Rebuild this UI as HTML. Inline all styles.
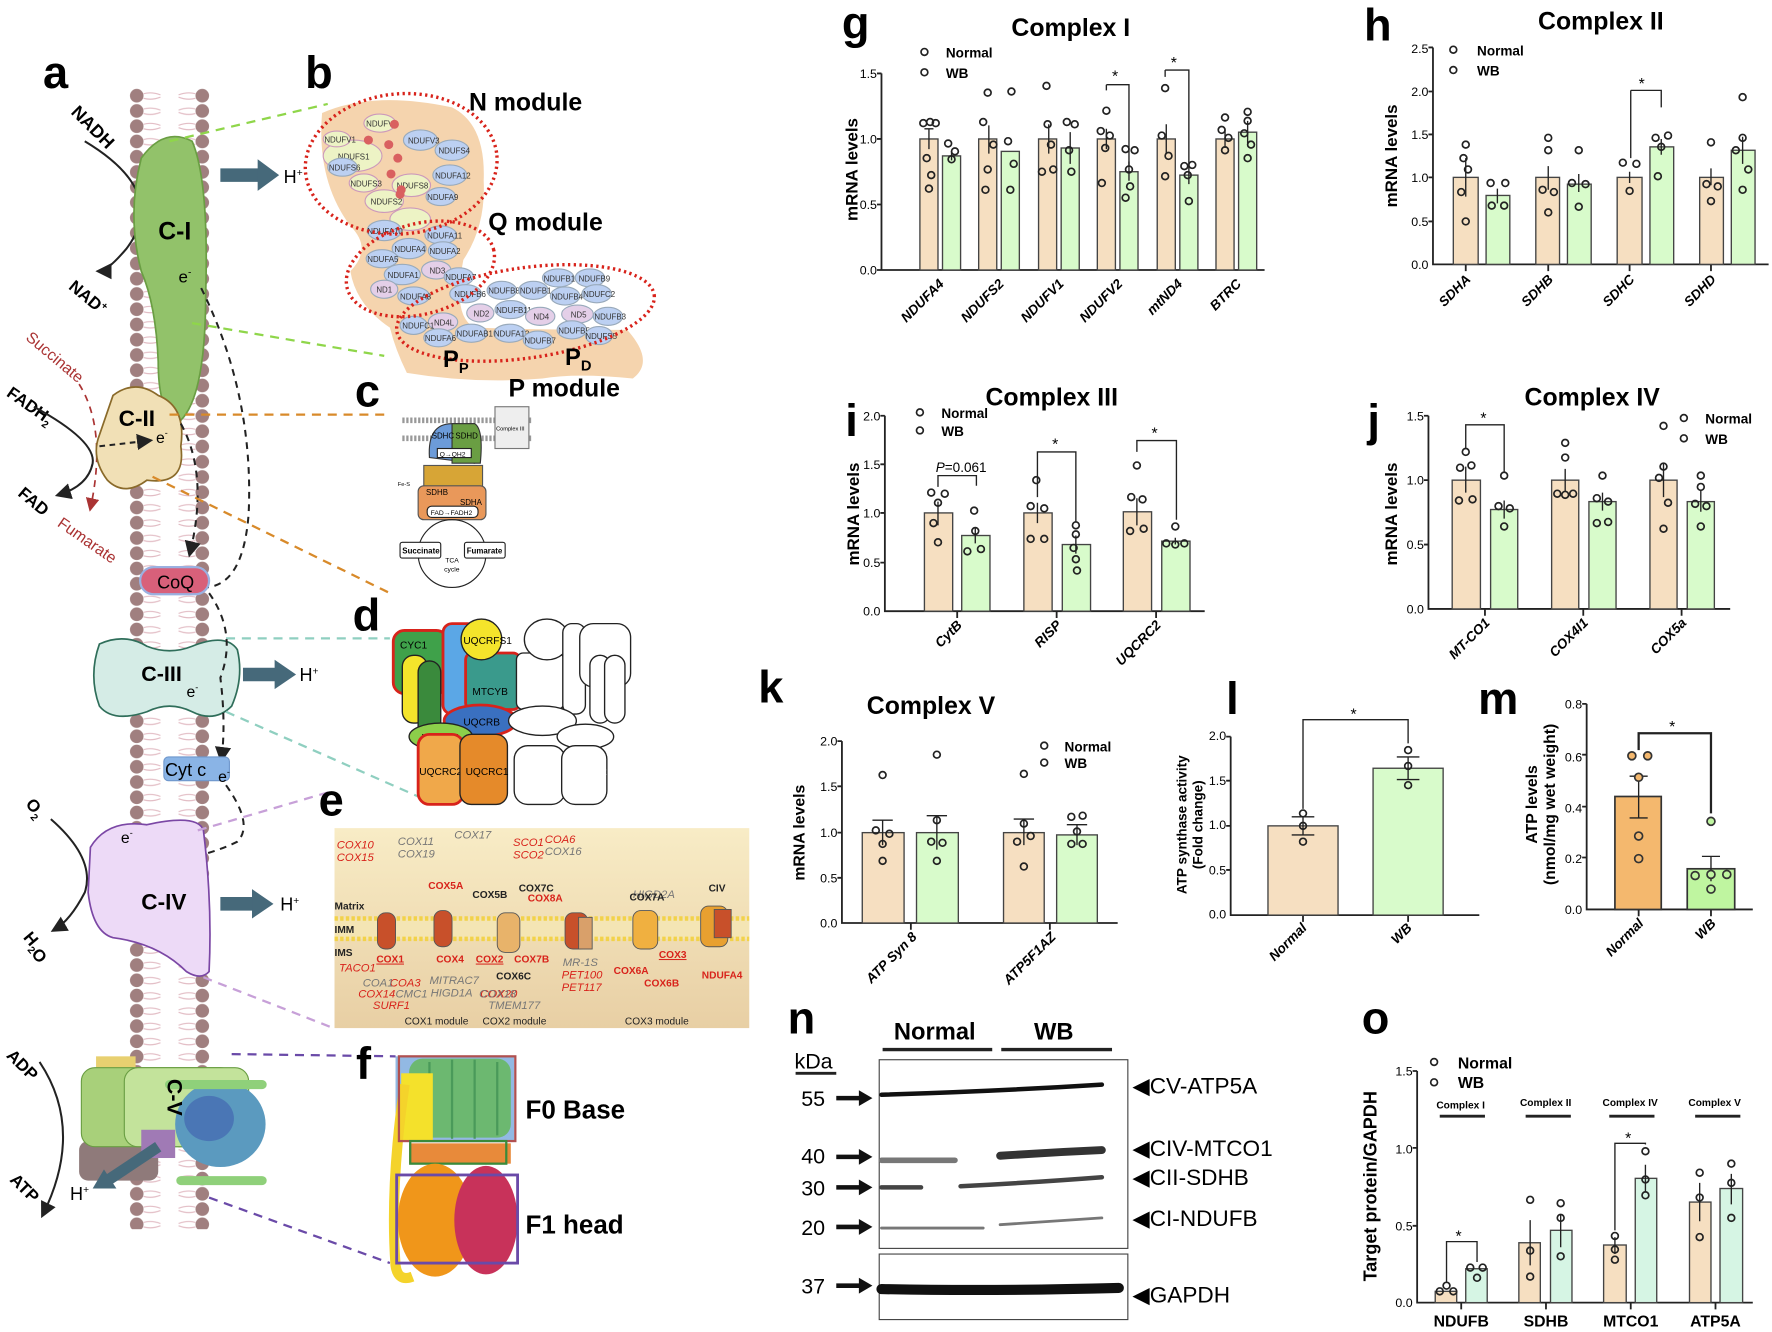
<!DOCTYPE html>
<html><head><meta charset="utf-8"><style>
html,body{margin:0;padding:0;background:#fff}
svg{display:block}
text{font-family:"Liberation Sans",Arial,sans-serif}
.b{font-weight:bold}
.xl{font-size:12px;font-style:italic;font-weight:bold}
.tk{font-size:11px}
.tn{fill:#f6dfc1;stroke:#444;stroke-width:1.2}
.gr{fill:#d8fbcb;stroke:#444;stroke-width:1.2}
.mn{fill:#d6f5e4;stroke:#444;stroke-width:1.2}
.d{fill:none;stroke:#222;stroke-width:1.5}
.ax{stroke:#222;stroke-width:1.6;fill:none}
.eb{stroke:#222;stroke-width:1.2;fill:none}
</style></head><body>
<svg width="1772" height="1332" viewBox="0 0 1568 1179" preserveAspectRatio="none" xmlns="http://www.w3.org/2000/svg">
<defs>
<pattern id="mem" x="112" y="78" width="76" height="13.5" patternUnits="userSpaceOnUse">
<circle cx="9" cy="6.7" r="6" fill="#a07f7f"/><circle cx="67" cy="6.7" r="6" fill="#a07f7f"/>
<path d="M15 5 Q22 3 30 6 M15 9 Q22 11 30 8 M46 6 Q54 3 61 5 M46 8 Q54 11 61 9" stroke="#e2bcc4" stroke-width="1" fill="none"/>
</pattern>
<linearGradient id="eg" x1="0" y1="0" x2="0" y2="1"><stop offset="0" stop-color="#f8ecc6"/><stop offset="1" stop-color="#e8cfa4"/></linearGradient>
<marker id="ah" markerWidth="8" markerHeight="8" refX="6" refY="4" orient="auto"><path d="M0 0 L8 4 L0 8 z" fill="#222"/></marker>
<marker id="ahr" markerWidth="8" markerHeight="8" refX="6" refY="4" orient="auto"><path d="M0 0 L8 4 L0 8 z" fill="#a33"/></marker>
</defs>

<!-- ===== Panel a ===== -->
<text x="38" y="78" class="b" font-size="40">a</text>
<rect x="112" y="78" width="76" height="1010" fill="url(#mem)"/>
<path d="M75 125 Q150 170 112 220 Q95 240 88 240" stroke="#222" stroke-width="1.8" fill="none" marker-end="url(#ah)"/>
<text x="62" y="100" class="b" font-size="16" transform="rotate(45 62 100)">NADH</text>
<text x="60" y="255" class="b" font-size="15" transform="rotate(40 60 255)">NAD<tspan font-size="9" dy="-6">+</tspan></text>
<path d="M125 140 Q145 112 170 125 Q185 160 182 260 Q182 350 160 372 Q140 370 140 320 Q138 270 125 240 Q112 190 125 140 Z" fill="#92c26a" stroke="#6a9e43" stroke-width="1.5"/>
<text x="140" y="212" class="b" font-size="22">C-I</text>
<text x="158" y="250" font-size="15">e<tspan font-size="9" dy="-6">-</tspan></text>
<path d="M178 255 Q225 350 220 455 Q215 520 180 520" stroke="#222" stroke-width="1.8" fill="none" stroke-dasharray="6 5"/>
<path d="M195 155 H230" stroke="#46697a" stroke-width="12"/><path d="M228 141 L247 155 L228 169 Z" fill="#46697a"/>
<text x="251" y="162" font-size="16">H<tspan font-size="9" dy="-6">+</tspan></text>
<path d="M150 125 L290 92" stroke="#8fd64a" stroke-width="2" stroke-dasharray="8 6"/>
<path d="M170 286 L340 315" stroke="#8fd64a" stroke-width="2" stroke-dasharray="8 6"/>
<text x="22" y="300" font-size="14" fill="#a33" transform="rotate(40 22 300)">Succinate</text>
<text x="5" y="350" class="b" font-size="15" transform="rotate(35 5 350)">FADH<tspan font-size="9" dy="4">2</tspan></text>
<path d="M30 360 Q85 390 82 410 Q78 430 52 438" stroke="#222" stroke-width="1.8" fill="none" marker-end="url(#ah)"/>
<text x="15" y="438" class="b" font-size="15" transform="rotate(40 15 438)">FAD</text>
<path d="M70 340 Q95 380 80 450" stroke="#a33" stroke-width="1.5" stroke-dasharray="6 5" fill="none" marker-end="url(#ahr)"/>
<text x="50" y="465" font-size="14" fill="#a33" transform="rotate(35 50 465)">Fumarate</text>
<path d="M100 350 Q120 335 140 350 Q165 360 160 395 Q165 430 130 425 Q110 440 95 425 Q80 405 88 385 Z" fill="#f1e0b6" stroke="#8a6a2a" stroke-width="1.5"/>
<text x="105" y="377" class="b" font-size="20">C-II</text>
<text x="138" y="392" font-size="14">e<tspan font-size="8" dy="-6">-</tspan></text>
<path d="M88 395 L132 390" stroke="#222" stroke-width="1.8" stroke-dasharray="5 4" marker-end="url(#ah)"/>
<path d="M160 375 Q185 420 168 490" stroke="#222" stroke-width="1.8" stroke-dasharray="6 5" fill="none" marker-end="url(#ah)"/>
<path d="M150 367 L345 367" stroke="#d88a2a" stroke-width="2" stroke-dasharray="8 6"/>
<path d="M135 422 L345 525" stroke="#d88a2a" stroke-width="2" stroke-dasharray="8 6"/>
<rect x="124" y="502" width="61" height="24" rx="12" fill="#d8607a" stroke="#9ab0e0" stroke-width="2"/>
<text x="139" y="521" font-size="16">CoQ</text>
<path d="M88 570 Q110 560 130 572 Q150 580 170 572 Q200 560 210 575 Q216 600 205 625 Q190 640 170 630 Q150 620 130 630 Q100 640 88 625 Q78 598 88 570 Z" fill="#d5ece6" stroke="#2f6e5a" stroke-width="1.5"/>
<text x="125" y="603" class="b" font-size="19">C-III</text>
<text x="165" y="617" font-size="14">e<tspan font-size="8" dy="-6">-</tspan></text>
<path d="M215 597 H245" stroke="#46697a" stroke-width="12"/><path d="M243 584 L262 597 L243 610 Z" fill="#46697a"/>
<text x="265" y="603" font-size="16">H<tspan font-size="9" dy="-6">+</tspan></text>
<path d="M200 565 L345 565" stroke="#8fcfc0" stroke-width="2" stroke-dasharray="8 6"/>
<path d="M200 630 L370 705" stroke="#8fcfc0" stroke-width="2" stroke-dasharray="8 6"/>
<path d="M185 525 Q210 560 195 600 Q200 640 196 672" stroke="#222" stroke-width="1.8" stroke-dasharray="6 5" fill="none" marker-end="url(#ah)"/>
<rect x="145" y="670" width="58" height="21" rx="4" fill="#8ab4e6" stroke="#6f97cc"/>
<text x="146" y="687" font-size="16">Cyt c</text>
<text x="193" y="692" font-size="14">e<tspan font-size="8" dy="-6">-</tspan></text>
<path d="M200 695 Q225 730 210 745 Q180 760 130 765" stroke="#222" stroke-width="1.8" stroke-dasharray="6 5" fill="none" marker-end="url(#ah)"/>
<text x="22" y="712" class="b" font-size="15" transform="rotate(50 22 712)">O<tspan font-size="9" dy="4">2</tspan></text>
<path d="M45 725 Q85 760 75 790 Q62 815 48 823" stroke="#222" stroke-width="1.8" fill="none" marker-end="url(#ah)"/>
<text x="20" y="830" class="b" font-size="15" transform="rotate(50 20 830)">H<tspan font-size="9" dy="4">2</tspan>O</text>
<path d="M80 750 Q95 725 130 730 Q175 720 180 735 Q188 800 185 860 Q178 868 165 860 Q140 835 100 830 Q82 825 78 790 Z" fill="#eddaf7" stroke="#7b47a5" stroke-width="1.5"/>
<text x="107" y="746" font-size="14">e<tspan font-size="8" dy="-6">-</tspan></text>
<text x="125" y="805" class="b" font-size="20">C-IV</text>
<path d="M195 800 H225" stroke="#46697a" stroke-width="12"/><path d="M223 787 L242 800 L223 813 Z" fill="#46697a"/>
<text x="248" y="806" font-size="16">H<tspan font-size="9" dy="-6">+</tspan></text>
<path d="M175 735 L295 700" stroke="#c7a0d8" stroke-width="2" stroke-dasharray="8 6"/>
<path d="M180 865 L295 910" stroke="#c7a0d8" stroke-width="2" stroke-dasharray="8 6"/>
<text x="5" y="935" class="b" font-size="15" transform="rotate(45 5 935)">ADP</text>
<path d="M35 940 Q75 1000 38 1075" stroke="#222" stroke-width="1.8" fill="none" marker-end="url(#ah)"/>
<text x="8" y="1045" class="b" font-size="15" transform="rotate(45 8 1045)">ATP</text>
<rect x="85" y="935" width="35" height="14" fill="#e8d070"/>
<rect x="70" y="1010" width="70" height="35" rx="8" fill="#8f7a7a"/>
<rect x="72" y="945" width="135" height="70" rx="12" fill="#a8d07a" stroke="#6a9e43"/>
<rect x="110" y="945" width="110" height="70" rx="12" fill="#c3e39b" stroke="#6a9e43"/>
<rect x="125" y="1000" width="30" height="25" fill="#a07ab5"/>
<ellipse cx="195" cy="995" rx="40" ry="38" fill="#5b9abf"/>
<ellipse cx="185" cy="990" rx="22" ry="20" fill="#4a76b5"/>
<path d="M150 960 H232 M160 1045 H232" stroke="#8fd07a" stroke-width="8" stroke-linecap="round"/>
<text x="148" y="955" class="b" font-size="19" transform="rotate(90 148 955)">C-V</text>
<path d="M140 1015 L95 1045" stroke="#46697a" stroke-width="10"/><path d="M82 1052 L92 1035 L103 1052 Z" fill="#46697a"/>
<text x="62" y="1062" font-size="16">H<tspan font-size="9" dy="-6">+</tspan></text>
<path d="M205 933 L350 935" stroke="#6a4aa8" stroke-width="2" stroke-dasharray="8 6"/>
<path d="M185 1060 L345 1118" stroke="#6a4aa8" stroke-width="2" stroke-dasharray="8 6"/>

<!-- ===== Panel b ===== -->
<text x="270" y="78" class="b" font-size="40">b</text>
<path d="M285 100 Q330 80 400 95 Q430 110 428 160 Q430 200 410 230 Q400 280 420 290 Q480 292 555 292 Q580 320 560 335 Q510 330 480 335 Q420 340 360 330 Q350 310 345 290 Q315 270 310 240 Q330 220 310 200 Q280 160 285 100 Z" fill="#f4cfa5" opacity="0.9"/>
<g font-size="7" fill="#333">
<ellipse cx="312" cy="138" rx="26" ry="14" fill="#edf3c5" stroke="#c9b"/><text x="299" y="141">NDUFS1</text>
<ellipse cx="298" cy="123" rx="12" ry="7" fill="#edf3c5" stroke="#c9b"/><text x="287" y="126">NDUFV1</text>
<ellipse cx="336" cy="109" rx="14" ry="8" fill="#edf3c5" stroke="#c9b"/><text x="324" y="112">NDUFV2</text>
<ellipse cx="372" cy="124" rx="15" ry="9" fill="#bcd0f2" stroke="#9ab"/><text x="361" y="127">NDUFV3</text>
<ellipse cx="400" cy="133" rx="15" ry="9" fill="#bcd0f2" stroke="#9ab"/><text x="388" y="136">NDUFS4</text>
<ellipse cx="303" cy="148" rx="13" ry="8" fill="#bcd0f2" stroke="#9ab"/><text x="291" y="151">NDUFS6</text>
<ellipse cx="398" cy="155" rx="15" ry="9" fill="#bcd0f2" stroke="#9ab"/><text x="385" y="158">NDUFA12</text>
<ellipse cx="322" cy="162" rx="13" ry="8" fill="#edf3c5" stroke="#c9b"/><text x="310" y="165">NDUFS3</text>
<ellipse cx="364" cy="164" rx="17" ry="10" fill="#edf3c5" stroke="#c9b"/><text x="351" y="167">NDUFS8</text>
<ellipse cx="390" cy="174" rx="13" ry="8" fill="#bcd0f2" stroke="#9ab"/><text x="378" y="177">NDUFA9</text>
<ellipse cx="340" cy="178" rx="17" ry="10" fill="#edf3c5" stroke="#c9b"/><text x="328" y="181">NDUFS2</text>
<ellipse cx="363" cy="194" rx="18" ry="10" fill="#edf3c5" stroke="#c9b"/>
<ellipse cx="340" cy="204" rx="15" ry="9" fill="#bcd0f2" stroke="#9ab"/><text x="325" y="207">NDUFA10</text>
<ellipse cx="390" cy="208" rx="14" ry="8" fill="#bcd0f2" stroke="#9ab"/><text x="378" y="211">NDUFA11</text>
<ellipse cx="362" cy="220" rx="15" ry="9" fill="#bcd0f2" stroke="#9ab"/><text x="349" y="223">NDUFA4</text>
<ellipse cx="392" cy="222" rx="13" ry="8" fill="#bcd0f2" stroke="#9ab"/><text x="380" y="225">NDUFA2</text>
<ellipse cx="338" cy="229" rx="14" ry="8" fill="#bcd0f2" stroke="#9ab"/><text x="325" y="232">NDUFA5</text>
<ellipse cx="356" cy="243" rx="16" ry="9" fill="#bcd0f2" stroke="#9ab"/><text x="343" y="246">NDUFA1</text>
<ellipse cx="386" cy="239" rx="13" ry="8" fill="#e4cfe8" stroke="#9ab"/><text x="380" y="242">ND3</text>
<ellipse cx="406" cy="245" rx="13" ry="8" fill="#bcd0f2" stroke="#9ab"/><text x="394" y="248">NDUFA7</text>
<ellipse cx="340" cy="256" rx="12" ry="8" fill="#e4cfe8" stroke="#9ab"/><text x="333" y="259">ND1</text>
<ellipse cx="366" cy="262" rx="14" ry="8" fill="#bcd0f2" stroke="#9ab"/><text x="354" y="265">NDUFA8</text>
<ellipse cx="412" cy="260" rx="14" ry="8" fill="#bcd0f2" stroke="#9ab"/><text x="402" y="263">NDUFB6</text>
<ellipse cx="444" cy="257" rx="13" ry="8" fill="#bcd0f2" stroke="#9ab"/><text x="432" y="260">NDUFB8</text>
<ellipse cx="472" cy="257" rx="13" ry="8" fill="#bcd0f2" stroke="#9ab"/><text x="460" y="260">NDUFB1</text>
<ellipse cx="494" cy="246" rx="14" ry="8" fill="#bcd0f2" stroke="#9ab"/><text x="481" y="249">NDUFB10</text>
<ellipse cx="522" cy="246" rx="13" ry="8" fill="#bcd0f2" stroke="#9ab"/><text x="512" y="249">NDUFB9</text>
<ellipse cx="500" cy="262" rx="13" ry="8" fill="#bcd0f2" stroke="#9ab"/><text x="488" y="265">NDUFB4</text>
<ellipse cx="528" cy="260" rx="13" ry="8" fill="#bcd0f2" stroke="#9ab"/><text x="516" y="263">NDUFC2</text>
<ellipse cx="452" cy="274" rx="14" ry="8" fill="#bcd0f2" stroke="#9ab"/><text x="439" y="277">NDUFB11</text>
<ellipse cx="425" cy="277" rx="12" ry="8" fill="#e4cfe8" stroke="#9ab"/><text x="419" y="280">ND2</text>
<ellipse cx="478" cy="280" rx="13" ry="8" fill="#e4cfe8" stroke="#9ab"/><text x="472" y="283">ND4</text>
<ellipse cx="511" cy="278" rx="14" ry="8" fill="#e4cfe8" stroke="#9ab"/><text x="505" y="281">ND5</text>
<ellipse cx="538" cy="280" rx="13" ry="8" fill="#bcd0f2" stroke="#9ab"/><text x="526" y="283">NDUFB3</text>
<ellipse cx="392" cy="285" rx="13" ry="8" fill="#e4cfe8" stroke="#9ab"/><text x="384" y="288">ND4L</text>
<ellipse cx="366" cy="288" rx="12" ry="8" fill="#bcd0f2" stroke="#9ab"/><text x="356" y="291">NDUFC1</text>
<ellipse cx="417" cy="295" rx="14" ry="8" fill="#bcd0f2" stroke="#9ab"/><text x="404" y="298">NDUFAB1</text>
<ellipse cx="451" cy="295" rx="14" ry="8" fill="#bcd0f2" stroke="#9ab"/><text x="437" y="298">NDUFA13</text>
<ellipse cx="388" cy="299" rx="13" ry="8" fill="#bcd0f2" stroke="#9ab"/><text x="376" y="302">NDUFA6</text>
<ellipse cx="476" cy="301" rx="13" ry="8" fill="#bcd0f2" stroke="#9ab"/><text x="464" y="304">NDUFB7</text>
<ellipse cx="506" cy="292" rx="13" ry="8" fill="#bcd0f2" stroke="#9ab"/><text x="494" y="295">NDUFB5</text>
<ellipse cx="530" cy="297" rx="12" ry="8" fill="#bcd0f2" stroke="#9ab"/><text x="518" y="300">NDUFS5</text>
</g>
<g fill="#d96060"><circle cx="326" cy="124" r="4"/><circle cx="344" cy="128" r="4"/><circle cx="352" cy="140" r="4"/><circle cx="346" cy="154" r="4"/><circle cx="354" cy="172" r="4"/><circle cx="349" cy="110" r="4"/><circle cx="355" cy="168" r="4"/></g>
<g fill="none" stroke="#d8231b" stroke-width="3" stroke-dasharray="2 3">
<ellipse cx="355" cy="145" rx="85" ry="62" transform="rotate(-5 355 145)"/>
<ellipse cx="372" cy="238" rx="67" ry="40" transform="rotate(-15 372 238)"/>
<ellipse cx="465" cy="277" rx="115" ry="40" transform="rotate(-8 465 277)"/>
</g>
<text x="415" y="98" class="b" font-size="22">N module</text>
<text x="432" y="204" class="b" font-size="22">Q module</text>
<text x="392" y="325" class="b" font-size="21">P<tspan font-size="13" dy="5">P</tspan></text>
<text x="500" y="323" class="b" font-size="21">P<tspan font-size="13" dy="5">D</tspan></text>
<text x="450" y="351" class="b" font-size="22">P module</text>

<!-- ===== Panel c ===== -->
<text x="314" y="360" class="b" font-size="40">c</text>
<rect x="356" y="368" width="110" height="22" fill="#fff"/>
<path d="M356 372 H470 M356 388 H470" stroke="#999" stroke-width="5" stroke-dasharray="2 1.5"/>
<rect x="438" y="360" width="30" height="37" fill="#eee" stroke="#777"/><text x="439" y="381" font-size="5">Complex III</text>
<path d="M380 405 Q378 375 400 375 H420 Q426 400 420 410 Z" fill="#6c9bd9" stroke="#333"/>
<path d="M400 375 H420 Q428 380 425 410 L400 410 Z" fill="#6a9e43" stroke="#333"/>
<text x="382" y="388" font-size="7">SDHC</text><text x="403" y="388" font-size="7">SDHD</text>
<rect x="387" y="397" width="30" height="8" fill="#fff" stroke="#222"/><text x="389" y="404" font-size="6">Q→QH2</text>
<rect x="375" y="412" width="52" height="22" fill="#d7a536" stroke="#555"/>
<rect x="370" y="430" width="60" height="30" rx="5" fill="#e9985a" stroke="#555"/>
<text x="377" y="438" font-size="7">SDHB</text><text x="407" y="447" font-size="7">SDHA</text>
<rect x="378" y="448" width="45" height="10" rx="4" fill="#fff" stroke="#222"/><text x="381" y="456" font-size="6">FAD→FADH2</text>
<text x="352" y="430" font-size="5">Fe-S</text>
<circle cx="400" cy="490" r="30" fill="none" stroke="#222"/>
<rect x="354" y="480" width="36" height="14" rx="2" fill="#fff" stroke="#222"/><text x="356" y="490" font-size="7" class="b">Succinate</text>
<rect x="411" y="480" width="36" height="14" rx="2" fill="#fff" stroke="#222"/><text x="413" y="490" font-size="7" class="b">Fumarate</text>
<text x="394" y="498" font-size="6">TCA</text><text x="393" y="506" font-size="6">cycle</text>

<!-- ===== Panel d ===== -->
<text x="312" y="558" class="b" font-size="40">d</text>
<g stroke="#222" stroke-width="1.2" font-size="9">
<rect x="348" y="558" width="48" height="56" rx="10" fill="#3fa14a" stroke="#d8231b" stroke-width="2.5"/><text x="354" y="574" stroke="none">CYC1</text>
<rect x="392" y="552" width="30" height="80" rx="8" fill="#5ba7e6" stroke="#d8231b" stroke-width="2.5"/>
<rect x="356" y="580" width="22" height="60" rx="10" fill="#f4e42b"/>
<rect x="370" y="585" width="20" height="70" rx="10" fill="#3a8a3c"/>
<rect x="412" y="578" width="48" height="50" rx="6" fill="#3a9a8c" stroke="#d8231b" stroke-width="2.5"/><text x="418" y="615" stroke="none">MTCYB</text>
<circle cx="426" cy="566" r="18" fill="#f4e42b"/><text x="410" y="570" stroke="none">UQCRFS1</text>
<ellipse cx="425" cy="638" rx="32" ry="14" fill="#3a70c0" stroke="#d8231b" stroke-width="2.5"/><text x="410" y="642" stroke="none">UQCRB</text>
<ellipse cx="390" cy="652" rx="28" ry="12" fill="#8ccf4a"/><text x="373" y="656" stroke="none">UQCRH</text>
<rect x="370" y="650" width="40" height="62" rx="10" fill="#f0a84a" stroke="#d8231b" stroke-width="2.5"/><text x="371" y="686" stroke="none">UQCRC2</text>
<rect x="407" y="650" width="42" height="62" rx="10" fill="#e58a2a"/><text x="412" y="686" stroke="none">UQCRC1</text>
<g fill="#fff">
<rect x="457" y="578" width="42" height="50" rx="6"/><text x="460" y="615" stroke="none">MTCYB</text>
<ellipse cx="484" cy="566" rx="20" ry="18"/><text x="466" y="570" stroke="none">UQCRFS1</text>
<rect x="498" y="552" width="20" height="80" rx="8"/>
<rect x="513" y="552" width="45" height="56" rx="12"/><text x="528" y="568" stroke="none">CYC1</text>
<rect x="522" y="580" width="18" height="60" rx="9"/><rect x="535" y="580" width="18" height="60" rx="9"/>
<ellipse cx="480" cy="638" rx="30" ry="13"/><text x="466" y="642" stroke="none">UQCRB</text>
<ellipse cx="518" cy="652" rx="25" ry="11"/><text x="504" y="656" stroke="none">UQCRH</text>
<rect x="455" y="660" width="45" height="52" rx="12"/><text x="459" y="686" stroke="none">UQCRC1</text>
<rect x="497" y="660" width="40" height="52" rx="12"/><text x="499" y="686" stroke="none">UQCRC2</text>
</g>
</g>

<!-- ===== Panel e ===== -->
<text x="282" y="722" class="b" font-size="40">e</text>
<rect x="296" y="733" width="367" height="177" fill="url(#eg)"/>
<rect x="296" y="813" width="367" height="18" fill="#f4e5b4"/>
<path d="M296 813 H663 M296 831 H663" stroke="#f2d24a" stroke-width="4" stroke-dasharray="3 2"/>
<g font-size="10" font-style="italic" fill="#d8231b">
<text x="298" y="751">COX10</text><text x="298" y="762">COX15</text>
<text x="454" y="749">SCO1</text><text x="454" y="760">SCO2</text><text x="482" y="746">COA6</text>
<text x="300" y="860">TACO1</text><text x="317" y="883">COX14</text><text x="330" y="893">SURF1</text><text x="345" y="873">COA3</text>
<text x="425" y="883">COX20</text><text x="497" y="866">PET100</text><text x="497" y="877">PET117</text>
</g>
<g font-size="10" font-style="italic" fill="#777">
<text x="352" y="748">COX11</text><text x="352" y="759">COX19</text><text x="402" y="742">COX17</text><text x="482" y="757">COX16</text>
<text x="321" y="873">COA1</text><text x="350" y="883">CMC1</text><text x="380" y="871">MITRAC7</text><text x="381" y="882">HIGD1A</text>
<text x="424" y="883">COX18</text><text x="432" y="893">TMEM177</text><text x="498" y="855">MR-1S</text><text x="560" y="795">HIGD2A</text>
</g>
<g font-size="9" class="b" fill="#d8231b">
<text x="379" y="787">COX5A</text><text x="386" y="852">COX4</text><text x="333" y="852" text-decoration="underline">COX1</text><text x="421" y="852" text-decoration="underline">COX2</text><text x="455" y="852">COX7B</text>
<text x="467" y="798">COX8A</text><text x="543" y="862">COX6A</text><text x="583" y="848" text-decoration="underline">COX3</text><text x="570" y="873">COX6B</text><text x="621" y="866">NDUFA4</text>
</g>
<g font-size="9" class="b" fill="#222">
<text x="418" y="795">COX5B</text><text x="459" y="789">COX7C</text><text x="439" y="867">COX6C</text><text x="557" y="797">COX7A</text><text x="627" y="789">CIV</text>
<text x="296" y="805">Matrix</text><text x="296" y="826">IMM</text><text x="296" y="846">IMS</text>
</g>
<g font-size="9" fill="#222"><text x="358" y="907">COX1 module</text><text x="427" y="907">COX2 module</text><text x="553" y="907">COX3 module</text></g>
<g stroke="#555" stroke-width="0.8">
<rect x="334" y="808" width="16" height="32" rx="7" fill="#c8502a"/>
<rect x="384" y="806" width="16" height="32" rx="7" fill="#c8502a"/>
<rect x="440" y="808" width="20" height="35" rx="7" fill="#e8b36a"/>
<rect x="500" y="808" width="20" height="32" rx="7" fill="#c8502a"/><rect x="512" y="812" width="12" height="28" fill="#d9a06a"/>
<rect x="560" y="806" width="22" height="34" rx="7" fill="#f0b040"/>
<rect x="620" y="802" width="24" height="36" rx="7" fill="#e8a030"/><rect x="632" y="805" width="15" height="25" fill="#c8502a"/>
</g>

<!-- ===== Panel f ===== -->
<text x="315" y="955" class="b" font-size="40">f</text>
<rect x="350" y="935" width="105" height="75" fill="#4a8ad0" opacity="0.6"/>
<rect x="362" y="937" width="90" height="70" rx="12" fill="#6cb870"/>
<path d="M380 940 V1005 M400 938 V1008 M420 938 V1008 M440 940 V1005" stroke="#4a9a5a" stroke-width="2"/>
<rect x="355" y="950" width="28" height="60" fill="#f4e12b"/>
<path d="M358 960 Q345 1050 350 1120 Q352 1135 365 1130" stroke="#f4d32b" stroke-width="9" fill="none"/>
<rect x="362" y="1012" width="90" height="18" fill="#e88a3a"/>
<rect x="353" y="935" width="103" height="75" fill="none" stroke="#b05050" stroke-width="2"/>
<rect x="363" y="1010" width="85" height="20" fill="none" stroke="#3a8a3a" stroke-width="2"/>
<ellipse cx="385" cy="1080" rx="33" ry="50" fill="#f0961a"/>
<ellipse cx="430" cy="1080" rx="28" ry="48" fill="#c8325a"/>
<rect x="351" y="1040" width="107" height="78" fill="none" stroke="#6a4aa8" stroke-width="2.5"/>
<text x="465" y="990" class="b" font-size="23">F0 Base</text>
<text x="465" y="1092" class="b" font-size="23">F1 head</text>

<!-- ===== Panel g ===== -->
<text x="745" y="34" class="b" font-size="40">g</text>
<text x="895" y="32" class="b" font-size="22">Complex I</text>
<circle cx="818" cy="46" r="3" class="d"/><text x="837" y="51" class="b" font-size="12">Normal</text>
<circle cx="818" cy="64" r="3" class="d"/><text x="837" y="69" class="b" font-size="12">WB</text>
<text x="759" y="150" class="b" font-size="15" text-anchor="middle" transform="rotate(-90 759 150)">mRNA levels</text>
<g class="tk" text-anchor="end"><text x="776" y="69">1.5</text><text x="776" y="127">1.0</text><text x="776" y="185">0.5</text><text x="776" y="243">0.0</text></g>
<path d="M780 65 V239 H1119 M776 65 H780 M776 123 H780 M776 181 H780 M776 239 H780" class="ax"/>
<rect x="814" y="123" width="16" height="116" class="tn"/><rect x="834" y="138" width="16" height="101" class="gr"/>
<rect x="866" y="123" width="16" height="116" class="tn"/><rect x="886" y="134" width="16" height="105" class="gr"/>
<rect x="919" y="123" width="16" height="116" class="tn"/><rect x="939" y="131" width="16" height="108" class="gr"/>
<rect x="971" y="123" width="16" height="116" class="tn"/><rect x="991" y="152" width="16" height="87" class="gr"/>
<rect x="1024" y="123" width="16" height="116" class="tn"/><rect x="1044" y="155" width="16" height="84" class="gr"/>
<rect x="1076" y="123" width="16" height="116" class="tn"/><rect x="1096" y="117" width="16" height="122" class="gr"/>
<path d="M822 114 V132 M818 114 H826 M842 134 V142 M875 111 V136 M928 110 V136 M947 117 V145 M979 114 V132 M999 143 V160 M1032 110 V136 M1052 147 V163 M1084 115 V131 M1104 107 V127" class="eb"/>
<g class="d">
<circle cx="817" cy="109" r="3"/><circle cx="823" cy="108" r="3"/><circle cx="828" cy="109" r="3"/><circle cx="820" cy="140" r="3"/><circle cx="824" cy="155" r="3"/><circle cx="822" cy="167" r="3"/>
<circle cx="839" cy="127" r="3"/><circle cx="845" cy="134" r="3"/><circle cx="842" cy="141" r="3"/>
<circle cx="874" cy="82" r="3"/><circle cx="870" cy="108" r="3"/><circle cx="879" cy="128" r="3"/><circle cx="874" cy="150" r="3"/><circle cx="872" cy="168" r="3"/>
<circle cx="895" cy="81" r="3"/><circle cx="892" cy="125" r="3"/><circle cx="897" cy="145" r="3"/><circle cx="894" cy="168" r="3"/>
<circle cx="926" cy="76" r="3"/><circle cx="927" cy="110" r="3"/><circle cx="930" cy="128" r="3"/><circle cx="922" cy="152" r="3"/><circle cx="932" cy="150" r="3"/>
<circle cx="944" cy="108" r="3"/><circle cx="951" cy="110" r="3"/><circle cx="946" cy="133" r="3"/><circle cx="948" cy="152" r="3"/>
<circle cx="979" cy="98" r="3"/><circle cx="974" cy="116" r="3"/><circle cx="982" cy="120" r="3"/><circle cx="978" cy="131" r="3"/><circle cx="975" cy="162" r="3"/>
<circle cx="996" cy="132" r="3"/><circle cx="1004" cy="133" r="3"/><circle cx="999" cy="150" r="3"/><circle cx="1000" cy="165" r="3"/><circle cx="996" cy="175" r="3"/>
<circle cx="1031" cy="78" r="3"/><circle cx="1028" cy="120" r="3"/><circle cx="1034" cy="138" r="3"/><circle cx="1031" cy="156" r="3"/>
<circle cx="1048" cy="147" r="3"/><circle cx="1055" cy="146" r="3"/><circle cx="1051" cy="155" r="3"/><circle cx="1052" cy="178" r="3"/>
<circle cx="1084" cy="104" r="3"/><circle cx="1081" cy="115" r="3"/><circle cx="1087" cy="122" r="3"/><circle cx="1084" cy="133" r="3"/>
<circle cx="1104" cy="99" r="3"/><circle cx="1104" cy="107" r="3"/><circle cx="1101" cy="118" r="3"/><circle cx="1107" cy="128" r="3"/><circle cx="1104" cy="140" r="3"/>
</g>
<path d="M979 75 H999 V147 M979 75 V80 M1031 62 H1052 V145 M1031 62 V68" class="eb"/>
<text x="984" y="72" font-size="14">*</text><text x="1036" y="60" font-size="14">*</text>
<g class="xl" text-anchor="end">
<text transform="translate(836 252) rotate(-45)">NDUFA4</text><text transform="translate(889 252) rotate(-45)">NDUFS2</text>
<text transform="translate(942 252) rotate(-45)">NDUFV1</text><text transform="translate(994 252) rotate(-45)">NDUFV2</text>
<text transform="translate(1047 252) rotate(-45)">mtND4</text><text transform="translate(1099 252) rotate(-45)">BTRC</text>
</g>

<!-- ===== Panel h ===== -->
<text x="1207" y="36" class="b" font-size="40">h</text>
<text x="1361" y="26" class="b" font-size="22">Complex II</text>
<circle cx="1286" cy="44" r="3" class="d"/><text x="1307" y="49" class="b" font-size="12">Normal</text>
<circle cx="1286" cy="62" r="3" class="d"/><text x="1307" y="67" class="b" font-size="12">WB</text>
<text x="1236" y="138" class="b" font-size="15" text-anchor="middle" transform="rotate(-90 1236 138)">mRNA levels</text>
<g class="tk" text-anchor="end"><text x="1264" y="47">2.5</text><text x="1264" y="85">2.0</text><text x="1264" y="123">1.5</text><text x="1264" y="161">1.0</text><text x="1264" y="200">0.5</text><text x="1264" y="238">0.0</text></g>
<path d="M1268 42 V234 H1565 M1264 42 H1268 M1264 81 H1268 M1264 119 H1268 M1264 157 H1268 M1264 196 H1268 M1297 234 V240 M1370 234 V240 M1442 234 V240 M1514 234 V240" class="ax"/>
<rect x="1286" y="157" width="22" height="77" class="tn"/><rect x="1315" y="173" width="21" height="61" class="gr"/>
<rect x="1359" y="157" width="21" height="77" class="tn"/><rect x="1387" y="163" width="21" height="71" class="gr"/>
<rect x="1431" y="157" width="22" height="77" class="tn"/><rect x="1460" y="130" width="21" height="104" class="gr"/>
<rect x="1504" y="157" width="21" height="77" class="tn"/><rect x="1532" y="133" width="21" height="101" class="gr"/>
<path d="M1297 140 V174 M1325 167 V180 M1370 147 V168 M1397 154 V170 M1442 152 V162 M1470 123 V137 M1514 149 V164 M1542 121 V145" class="eb"/>
<g class="d">
<circle cx="1297" cy="128" r="3"/><circle cx="1295" cy="140" r="3"/><circle cx="1299" cy="150" r="3"/><circle cx="1293" cy="170" r="3"/><circle cx="1297" cy="196" r="3"/>
<circle cx="1319" cy="162" r="3"/><circle cx="1332" cy="162" r="3"/><circle cx="1320" cy="182" r="3"/><circle cx="1331" cy="182" r="3"/>
<circle cx="1370" cy="122" r="3"/><circle cx="1370" cy="133" r="3"/><circle cx="1365" cy="168" r="3"/><circle cx="1375" cy="170" r="3"/><circle cx="1370" cy="188" r="3"/>
<circle cx="1397" cy="133" r="3"/><circle cx="1391" cy="162" r="3"/><circle cx="1403" cy="163" r="3"/><circle cx="1397" cy="183" r="3"/>
<circle cx="1436" cy="144" r="3"/><circle cx="1448" cy="145" r="3"/><circle cx="1442" cy="169" r="3"/>
<circle cx="1465" cy="122" r="3"/><circle cx="1476" cy="120" r="3"/><circle cx="1470" cy="130" r="3"/><circle cx="1467" cy="156" r="3"/>
<circle cx="1514" cy="126" r="3"/><circle cx="1510" cy="163" r="3"/><circle cx="1520" cy="165" r="3"/><circle cx="1514" cy="178" r="3"/>
<circle cx="1542" cy="86" r="3"/><circle cx="1542" cy="122" r="3"/><circle cx="1536" cy="133" r="3"/><circle cx="1547" cy="150" r="3"/><circle cx="1542" cy="168" r="3"/>
</g>
<path d="M1443 80 H1470 V95 M1443 80 V140" class="eb"/><text x="1450" y="79" font-size="14">*</text>
<g class="xl" text-anchor="end">
<text transform="translate(1302 248) rotate(-45)">SDHA</text><text transform="translate(1375 248) rotate(-45)">SDHB</text>
<text transform="translate(1447 248) rotate(-45)">SDHC</text><text transform="translate(1519 248) rotate(-45)">SDHD</text>
</g>

<!-- ===== Panel i ===== -->
<text x="748" y="386" class="b" font-size="40">i</text>
<text x="872" y="359" class="b" font-size="22">Complex III</text>
<circle cx="814" cy="365" r="3" class="d"/><text x="833" y="370" class="b" font-size="12">Normal</text>
<circle cx="814" cy="381" r="3" class="d"/><text x="833" y="386" class="b" font-size="12">WB</text>
<text x="760" y="455" class="b" font-size="15" text-anchor="middle" transform="rotate(-90 760 455)">mRNA levels</text>
<g class="tk" text-anchor="end"><text x="779" y="372">2.0</text><text x="779" y="415">1.5</text><text x="779" y="458">1.0</text><text x="779" y="502">0.5</text><text x="779" y="545">0.0</text></g>
<path d="M783 368 V541 H1066 M779 368 H783 M779 411 H783 M779 454 H783 M779 498 H783 M847 541 V547 M935 541 V547 M1023 541 V547" class="ax"/>
<rect x="818" y="454" width="25" height="87" class="tn"/><rect x="851" y="474" width="25" height="67" class="gr"/>
<rect x="906" y="454" width="25" height="87" class="tn"/><rect x="940" y="482" width="25" height="59" class="gr"/>
<rect x="994" y="453" width="25" height="88" class="tn"/><rect x="1028" y="479" width="25" height="62" class="gr"/>
<path d="M830 444 V465 M863 467 V481 M918 445 V463 M952 474 V490 M1006 441 V465 M1040 476 V482" class="eb"/>
<g class="d">
<circle cx="824" cy="436" r="3"/><circle cx="836" cy="437" r="3"/><circle cx="830" cy="445" r="3"/><circle cx="826" cy="463" r="3"/><circle cx="830" cy="480" r="3"/>
<circle cx="862" cy="452" r="3"/><circle cx="863" cy="470" r="3"/><circle cx="856" cy="488" r="3"/><circle cx="868" cy="486" r="3"/>
<circle cx="917" cy="425" r="3"/><circle cx="912" cy="448" r="3"/><circle cx="924" cy="450" r="3"/><circle cx="912" cy="477" r="3"/><circle cx="924" cy="477" r="3"/>
<circle cx="952" cy="465" r="3"/><circle cx="952" cy="473" r="3"/><circle cx="950" cy="485" r="3"/><circle cx="952" cy="495" r="3"/><circle cx="953" cy="505" r="3"/>
<circle cx="1006" cy="412" r="3"/><circle cx="1001" cy="440" r="3"/><circle cx="1011" cy="442" r="3"/><circle cx="1000" cy="470" r="3"/><circle cx="1012" cy="468" r="3"/>
<circle cx="1040" cy="466" r="3"/><circle cx="1032" cy="481" r="3"/><circle cx="1040" cy="482" r="3"/><circle cx="1048" cy="481" r="3"/>
</g>
<path d="M830 431 V421 H864 V430 M918 440 V400 H952 V462 M1006 400 V390 H1041 V460" class="eb"/>
<text x="828" y="418" font-size="12"><tspan font-style="italic">P</tspan>=0.061</text>
<text x="931" y="398" font-size="14">*</text><text x="1019" y="388" font-size="14">*</text>
<g class="xl" text-anchor="end">
<text transform="translate(852 554) rotate(-45)">CytB</text><text transform="translate(940 554) rotate(-45)">RISP</text><text transform="translate(1028 554) rotate(-45)">UQCRC2</text>
</g>

<!-- ===== Panel j ===== -->
<text x="1210" y="386" class="b" font-size="40">j</text>
<text x="1349" y="359" class="b" font-size="22">Complex IV</text>
<circle cx="1490" cy="370" r="3" class="d"/><text x="1509" y="375" class="b" font-size="12">Normal</text>
<circle cx="1490" cy="388" r="3" class="d"/><text x="1509" y="393" class="b" font-size="12">WB</text>
<text x="1236" y="455" class="b" font-size="15" text-anchor="middle" transform="rotate(-90 1236 455)">mRNA levels</text>
<g class="tk" text-anchor="end"><text x="1260" y="372">1.5</text><text x="1260" y="429">1.0</text><text x="1260" y="486">0.5</text><text x="1260" y="543">0.0</text></g>
<path d="M1264 368 V539 H1531 M1260 368 H1264 M1260 425 H1264 M1260 482 H1264 M1314 539 V545 M1401 539 V545 M1488 539 V545" class="ax"/>
<rect x="1285" y="425" width="25" height="114" class="tn"/><rect x="1319" y="451" width="24" height="88" class="gr"/>
<rect x="1373" y="425" width="24" height="114" class="tn"/><rect x="1406" y="444" width="24" height="95" class="gr"/>
<rect x="1460" y="425" width="24" height="114" class="tn"/><rect x="1493" y="444" width="24" height="95" class="gr"/>
<path d="M1297 413 V436 M1331 443 V459 M1385 415 V435 M1418 436 V452 M1472 410 V440 M1505 434 V453" class="eb"/>
<g class="d">
<circle cx="1297" cy="400" r="3"/><circle cx="1292" cy="414" r="3"/><circle cx="1302" cy="412" r="3"/><circle cx="1291" cy="443" r="3"/><circle cx="1303" cy="442" r="3"/>
<circle cx="1331" cy="421" r="3"/><circle cx="1326" cy="448" r="3"/><circle cx="1336" cy="450" r="3"/><circle cx="1331" cy="466" r="3"/>
<circle cx="1385" cy="392" r="3"/><circle cx="1385" cy="405" r="3"/><circle cx="1378" cy="437" r="3"/><circle cx="1385" cy="438" r="3"/><circle cx="1392" cy="437" r="3"/>
<circle cx="1418" cy="421" r="3"/><circle cx="1413" cy="441" r="3"/><circle cx="1423" cy="444" r="3"/><circle cx="1413" cy="463" r="3"/><circle cx="1423" cy="462" r="3"/>
<circle cx="1472" cy="377" r="3"/><circle cx="1472" cy="413" r="3"/><circle cx="1468" cy="423" r="3"/><circle cx="1476" cy="445" r="3"/><circle cx="1472" cy="468" r="3"/>
<circle cx="1505" cy="421" r="3"/><circle cx="1505" cy="431" r="3"/><circle cx="1500" cy="446" r="3"/><circle cx="1510" cy="448" r="3"/><circle cx="1505" cy="466" r="3"/>
</g>
<path d="M1297 397 V376 H1331 V418" class="eb"/><text x="1310" y="375" font-size="14">*</text>
<g class="xl" text-anchor="end">
<text transform="translate(1319 552) rotate(-45)">MT-CO1</text><text transform="translate(1406 552) rotate(-45)">COX4I1</text><text transform="translate(1493 552) rotate(-45)">COX5a</text>
</g>

<!-- ===== Panel k ===== -->
<text x="671" y="622" class="b" font-size="40">k</text>
<text x="767" y="632" class="b" font-size="22">Complex V</text>
<circle cx="924" cy="660" r="3" class="d"/><text x="942" y="665" class="b" font-size="12">Normal</text>
<circle cx="924" cy="675" r="3" class="d"/><text x="942" y="680" class="b" font-size="12">WB</text>
<text x="712" y="737" class="b" font-size="14" text-anchor="middle" transform="rotate(-90 712 737)">mRNA levels</text>
<g class="tk" text-anchor="end" font-size="11"><text x="741" y="660">2.0</text><text x="741" y="700">1.5</text><text x="741" y="741">1.0</text><text x="741" y="781">0.5</text><text x="741" y="821">0.0</text></g>
<path d="M745 656 V817 H989 M741 656 H745 M741 696 H745 M741 737 H745 M741 777 H745 M806 817 V823 M929 817 V823" class="ax"/>
<rect x="763" y="737" width="37" height="80" class="tn"/><rect x="811" y="737" width="37" height="80" class="gr"/>
<rect x="888" y="737" width="36" height="80" class="tn"/><rect x="935" y="739" width="36" height="78" class="gr"/>
<path d="M772 726 H790 M781 726 V748 M820 722 H838 M829 722 V752 M897 725 H915 M906 725 V748 M944 730 H962 M953 730 V748" class="eb"/>
<g class="d">
<circle cx="781" cy="686" r="3"/><circle cx="775" cy="735" r="3"/><circle cx="787" cy="738" r="3"/><circle cx="781" cy="747" r="3"/><circle cx="781" cy="762" r="3"/>
<circle cx="829" cy="668" r="3"/><circle cx="829" cy="726" r="3"/><circle cx="824" cy="745" r="3"/><circle cx="834" cy="746" r="3"/><circle cx="829" cy="762" r="3"/>
<circle cx="906" cy="685" r="3"/><circle cx="906" cy="729" r="3"/><circle cx="900" cy="745" r="3"/><circle cx="912" cy="740" r="3"/><circle cx="906" cy="767" r="3"/>
<circle cx="948" cy="723" r="3"/><circle cx="958" cy="722" r="3"/><circle cx="953" cy="736" r="3"/><circle cx="948" cy="747" r="3"/><circle cx="958" cy="747" r="3"/>
</g>
<g class="xl" text-anchor="end">
<text transform="translate(812 830) rotate(-45)">ATP Syn 8</text><text transform="translate(935 830) rotate(-45)">ATP5F1AZ</text>
</g>

<!-- ===== Panel l ===== -->
<text x="1085" y="632" class="b" font-size="40">l</text>
<text x="1050" y="730" class="b" font-size="12" text-anchor="middle" transform="rotate(-90 1050 730)">ATP synthase activity</text>
<text x="1064" y="730" class="b" font-size="12" text-anchor="middle" transform="rotate(-90 1064 730)">(Fold change)</text>
<g class="tk" text-anchor="end" font-size="10"><text x="1085" y="655">2.0</text><text x="1085" y="695">1.5</text><text x="1085" y="734">1.0</text><text x="1085" y="774">0.5</text><text x="1085" y="813">0.0</text></g>
<path d="M1089 652 V810 H1309 M1085 652 H1089 M1085 691 H1089 M1085 731 H1089 M1085 770 H1089 M1153 810 V816 M1246 810 V816" class="ax"/>
<rect x="1122" y="731" width="62" height="79" class="tn"/><rect x="1215" y="680" width="62" height="130" class="gr"/>
<path d="M1143 723 H1163 M1153 723 V739 M1143 739 H1163 M1236 670 H1256 M1246 670 V690 M1236 690 H1256" class="eb"/>
<g class="d"><circle cx="1153" cy="720" r="3"/><circle cx="1153" cy="731" r="3"/><circle cx="1153" cy="745" r="3"/><circle cx="1246" cy="664" r="3"/><circle cx="1246" cy="678" r="3"/><circle cx="1246" cy="695" r="3"/></g>
<path d="M1153 716 V637 H1246 V658" class="eb"/><text x="1195" y="637" font-size="14">*</text>
<g class="xl" text-anchor="end" font-size="11"><text transform="translate(1157 822) rotate(-45)">Normal</text><text transform="translate(1250 822) rotate(-45)">WB</text></g>

<!-- ===== Panel m ===== -->
<text x="1308" y="632" class="b" font-size="40">m</text>
<text x="1360" y="712" class="b" font-size="14" text-anchor="middle" transform="rotate(-90 1360 712)">ATP levels</text>
<text x="1376" y="712" class="b" font-size="14" text-anchor="middle" transform="rotate(-90 1376 712)">(nmol/mg wet weight)</text>
<g class="tk" text-anchor="end"><text x="1400" y="627">0.8</text><text x="1400" y="674">0.6</text><text x="1400" y="719">0.4</text><text x="1400" y="764">0.2</text><text x="1400" y="809">0.0</text></g>
<path d="M1404 623 V805 H1551 M1400 623 H1404 M1400 668 H1404 M1400 714 H1404 M1400 759 H1404 M1450 805 V811 M1514 805 V811" class="ax"/>
<rect x="1429" y="705" width="41" height="100" fill="#f4b86e" stroke="#333" stroke-width="1.5"/><rect x="1493" y="769" width="42" height="36" fill="#bff5a0" stroke="#333" stroke-width="1.5"/>
<path d="M1442 687 H1458 M1450 687 V724 M1442 724 H1458 M1506 758 H1522 M1514 758 V780" class="eb"/>
<g stroke="#333" stroke-width="1.5"><circle cx="1444" cy="669" r="3.5" fill="#f4b86e"/><circle cx="1458" cy="669" r="3.5" fill="#f4b86e"/><circle cx="1450" cy="688" r="3.5" fill="#f4b86e"/><circle cx="1450" cy="740" r="3.5" fill="#f4b86e"/><circle cx="1450" cy="760" r="3.5" fill="#f4b86e"/>
<circle cx="1514" cy="727" r="3.5" fill="#bff5a0"/><circle cx="1500" cy="775" r="3.5" fill="#bff5a0"/><circle cx="1514" cy="774" r="3.5" fill="#bff5a0"/><circle cx="1528" cy="774" r="3.5" fill="#bff5a0"/><circle cx="1514" cy="787" r="3.5" fill="#bff5a0"/></g>
<path d="M1450 664 V649 H1514 V720" stroke="#222" stroke-width="2" fill="none"/><text x="1477" y="648" font-size="14">*</text>
<g class="xl" text-anchor="end" font-size="11"><text transform="translate(1455 818) rotate(-45)">Normal</text><text transform="translate(1519 818) rotate(-45)">WB</text></g>

<!-- ===== Panel n ===== -->
<text x="697" y="915" class="b" font-size="40">n</text>
<text x="791" y="920" class="b" font-size="21">Normal</text><text x="915" y="920" class="b" font-size="21">WB</text>
<path d="M781 929 H878 M886 929 H984" stroke="#222" stroke-width="3"/>
<text x="703" y="946" font-size="19">kDa</text><path d="M704 950 H740" stroke="#222" stroke-width="2.5"/>
<rect x="778" y="938" width="220" height="167" fill="#fff" stroke="#444" stroke-width="1"/>
<rect x="778" y="1110" width="220" height="58" fill="#fff" stroke="#444" stroke-width="1"/>
<g stroke-linecap="round">
<path d="M780 969 Q880 966 975 960" stroke="#111" stroke-width="4" fill="none"/>
<path d="M780 1027 H845" stroke="#777" stroke-width="5"/><path d="M885 1023 Q930 1020 975 1018" stroke="#333" stroke-width="7" fill="none"/>
<path d="M780 1051 H815 M850 1050 Q910 1047 975 1042" stroke="#444" stroke-width="4" fill="none"/>
<path d="M780 1087 H870 M885 1084 Q930 1081 975 1078" stroke="#777" stroke-width="2.5" fill="none"/>
<path d="M780 1141 Q880 1143 990 1140" stroke="#111" stroke-width="9" fill="none"/>
</g>
<g font-size="19"><text x="709" y="979">55</text><text x="709" y="1030">40</text><text x="709" y="1058">30</text><text x="709" y="1093">20</text><text x="709" y="1145">37</text></g>
<g fill="#111"><path d="M740 970 H760 V965 L772 972 L760 979 V974 H740 Z"/><path d="M740 1022 H760 V1017 L772 1024 L760 1031 V1026 H740 Z"/><path d="M740 1049 H760 V1044 L772 1051 L760 1058 V1053 H740 Z"/><path d="M740 1084 H760 V1079 L772 1086 L760 1093 V1088 H740 Z"/><path d="M740 1136 H760 V1131 L772 1138 L760 1145 V1140 H740 Z"/></g>
<g font-size="20"><text x="1002" y="968">◀CV-ATP5A</text><text x="1002" y="1023">◀CIV-MTCO1</text><text x="1002" y="1049">◀CII-SDHB</text><text x="1002" y="1085">◀CI-NDUFB</text><text x="1002" y="1153">◀GAPDH</text></g>

<!-- ===== Panel o ===== -->
<text x="1205" y="915" class="b" font-size="40">o</text>
<circle cx="1269" cy="940" r="3" class="d"/><text x="1290" y="946" class="b" font-size="14">Normal</text>
<circle cx="1269" cy="958" r="3" class="d"/><text x="1290" y="963" class="b" font-size="14">WB</text>
<text x="1218" y="1050" class="b" font-size="16" text-anchor="middle" transform="rotate(-90 1218 1050)">Target protein/GAPDH</text>
<g class="tk" text-anchor="end"><text x="1250" y="952">1.5</text><text x="1250" y="1021">1.0</text><text x="1250" y="1089">0.5</text><text x="1250" y="1157">0.0</text></g>
<path d="M1254 948 V1153 H1551 M1250 948 H1254 M1250 1016 H1254 M1250 1085 H1254 M1293 1153 V1159 M1368 1153 V1159 M1443 1153 V1159 M1518 1153 V1159" class="ax"/>
<g font-size="9" class="b"><text x="1271" y="981">Complex I</text><text x="1345" y="979">Complex II</text><text x="1418" y="979">Complex IV</text><text x="1494" y="979">Complex V</text></g>
<path d="M1274 988 H1314 M1350 988 H1390 M1424 988 H1464 M1500 988 H1540" stroke="#222" stroke-width="2.5"/>
<rect x="1270" y="1143" width="19" height="10" class="tn"/><rect x="1297" y="1123" width="19" height="30" class="mn"/>
<rect x="1344" y="1100" width="19" height="53" class="tn"/><rect x="1372" y="1089" width="19" height="64" class="mn"/>
<rect x="1419" y="1102" width="20" height="51" class="tn"/><rect x="1447" y="1043" width="19" height="110" class="mn"/>
<rect x="1495" y="1064" width="19" height="89" class="tn"/><rect x="1522" y="1052" width="20" height="101" class="mn"/>
<path d="M1354 1080 V1120 M1381 1075 V1104 M1429 1095 V1110 M1456 1031 V1055 M1504 1047 V1081 M1532 1039 V1066" class="eb"/>
<g class="d">
<circle cx="1274" cy="1143" r="3"/><circle cx="1280" cy="1138" r="3"/><circle cx="1286" cy="1143" r="3"/><circle cx="1301" cy="1122" r="3"/><circle cx="1312" cy="1122" r="3"/><circle cx="1307" cy="1131" r="3"/>
<circle cx="1354" cy="1062" r="3"/><circle cx="1354" cy="1107" r="3"/><circle cx="1354" cy="1130" r="3"/><circle cx="1381" cy="1065" r="3"/><circle cx="1381" cy="1078" r="3"/><circle cx="1381" cy="1112" r="3"/>
<circle cx="1429" cy="1094" r="3"/><circle cx="1429" cy="1106" r="3"/><circle cx="1429" cy="1115" r="3"/><circle cx="1456" cy="1019" r="3"/><circle cx="1456" cy="1044" r="3"/><circle cx="1456" cy="1058" r="3"/>
<circle cx="1504" cy="1038" r="3"/><circle cx="1504" cy="1060" r="3"/><circle cx="1504" cy="1095" r="3"/><circle cx="1532" cy="1030" r="3"/><circle cx="1532" cy="1047" r="3"/><circle cx="1532" cy="1078" r="3"/>
</g>
<path d="M1280 1135 V1099 H1307 V1117 M1429 1089 V1012 H1456 V1013" class="eb"/>
<text x="1288" y="1099" font-size="14">*</text><text x="1438" y="1012" font-size="14">*</text>
<g class="b" font-size="14" text-anchor="middle"><text x="1293" y="1174">NDUFB</text><text x="1368" y="1174">SDHB</text><text x="1443" y="1174">MTCO1</text><text x="1518" y="1174">ATP5A</text></g>
</svg>
</body></html>
